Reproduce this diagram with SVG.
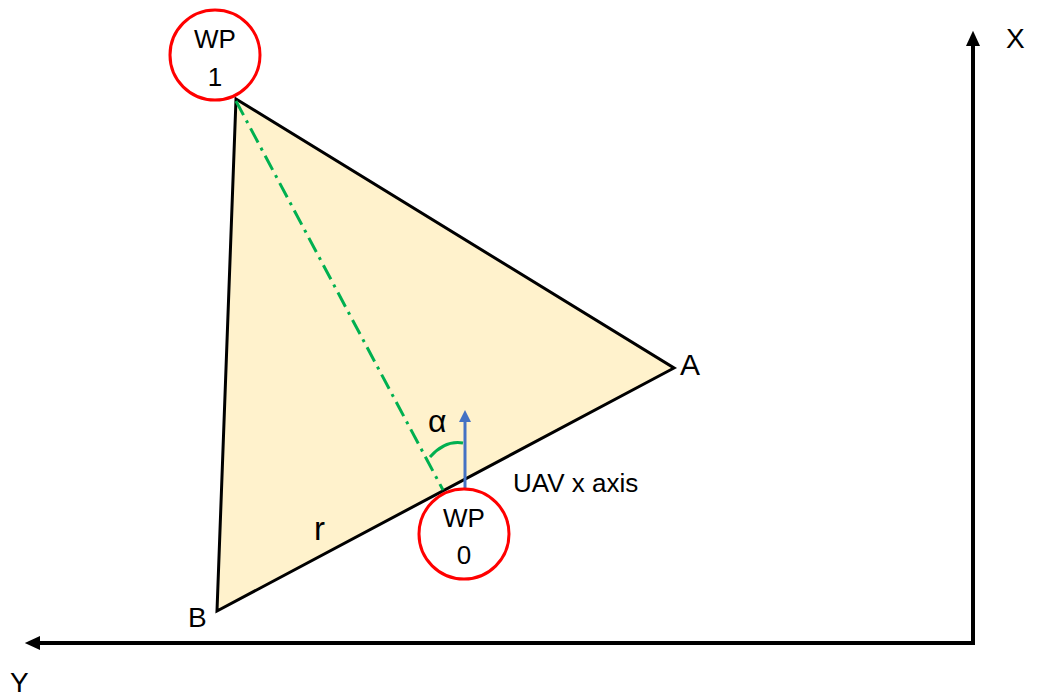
<svg xmlns="http://www.w3.org/2000/svg" width="1038" height="696" viewBox="0 0 1038 696">
<style>
text{font-family:"Liberation Sans",Arial,sans-serif;fill:#000}
.lbl{font-size:28px}
.wp{font-size:26px;text-anchor:middle}
.node{fill:#fff;stroke:#FF0000;stroke-width:3}
</style>
<defs>
<marker id="ah" markerWidth="4" markerHeight="4" refX="0.5" refY="1.75" orient="auto" markerUnits="strokeWidth"><path d="M0,0L3.8,1.75L0,3.5z" fill="#000"/></marker>
<marker id="ahb" markerWidth="4" markerHeight="4" refX="1" refY="2" orient="auto" markerUnits="strokeWidth"><path d="M0,0L4,2L0,4z" fill="#4472C4"/></marker>
</defs>
<g id="triangle">
<polygon points="236,99 674,368 217,611" fill="#FFF2CC" stroke="#000" stroke-width="3" stroke-linejoin="miter"/>
</g>
<g id="connectors">
<line x1="973" y1="643" x2="973" y2="44" stroke="#000" stroke-width="4" marker-end="url(#ah)"/>
<line x1="975" y1="643" x2="38" y2="643" stroke="#000" stroke-width="4" marker-end="url(#ah)"/>
<line x1="236" y1="101" x2="443" y2="490" stroke="#00B050" stroke-width="3" stroke-dasharray="16,6,3,6"/>
<line x1="465" y1="489" x2="465" y2="419" stroke="#4472C4" stroke-width="3" marker-end="url(#ahb)"/>
<path d="M430,457 Q445,440 463,443" fill="none" stroke="#00B050" stroke-width="3"/>
</g>
<g id="wp1">
<circle class="node" cx="215" cy="55" r="45"/>
<text class="wp" x="215" y="48">WP</text>
<text class="wp" x="215" y="86">1</text>
</g>
<g id="wp0">
<circle class="node" cx="464" cy="534" r="45"/>
<text class="wp" x="464" y="527">WP</text>
<text class="wp" x="464" y="564">0</text>
</g>
<g id="labels">
<text class="lbl" x="680" y="375" style="font-size:30px">A</text>
<text class="lbl" x="188" y="627">B</text>
<text class="lbl" x="314" y="540" style="font-size:33px">r</text>
<text class="lbl" x="1006" y="48">X</text>
<text class="lbl" x="10" y="692">Y</text>
<text x="428" y="432" style="font-size:32px">α</text>
<text x="513" y="492" style="font-size:26px">UAV x axis</text>
</g>
</svg>
